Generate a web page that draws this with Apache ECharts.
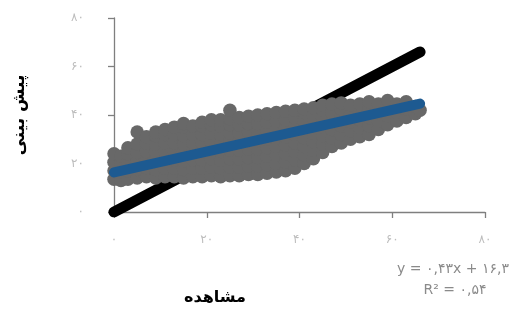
<!DOCTYPE html>
<html>
<head>
<meta charset="utf-8">
<script src="https://cdn.jsdelivr.net/npm/echarts@6/dist/echarts.min.js"></script>
<style>
html,body{margin:0;padding:0;background:#fff;}
#chart{width:518px;height:324px;}
</style>
</head>
<body>
<div id="chart"></div>
<script>
// Axis ticks (values and Persian tick labels)
var tickValues = [0, 20, 40, 60, 80];
var tickLabels = ['۰', '۲۰', '۴۰', '۶۰', '۸۰'];

// Titles and equation text
var xTitle = 'مشاهده';
var yTitle = 'پیش بینی';
var eqText = 'y = ۰,۴۳x + ۱۶,۳';
var r2Text = 'R² = ۰,۵۴';

// Identity line (observed vs observed)
var identityLine = [[0, 0], [66, 66]];

// Linear trend line y = 0.43x + 16.3
var trendLine = [[0, 16.3], [66, 44.7]];

var points = [
  [0,13.5],[0,17],[0,20.5],[0,24],
  [1.5,13],[1.5,16.5],[1.5,20],[1.5,23],
  [3,13.5],[3,17],[3,20.5],[3,24],[3,26.5],
  [5,14],[5,17.5],[5,21],[5,24.5],[5,28],[5,33],
  [7,14.5],[7,18],[7,21.5],[7,25],[7,28.5],[7,31],
  [9,14],[9,17.5],[9,21],[9,24.5],[9,28],[9,31.5],[9,33],
  [11,14.5],[11,18],[11,21.5],[11,25],[11,28.5],[11,32],[11,34],
  [13,14.5],[13,18],[13,21.5],[13,25],[13,28.5],[13,32],[13,35],
  [15,14],[15,17.5],[15,21],[15,24.5],[15,28],[15,31.5],[15,35],[15,36.5],
  [17,14.5],[17,18],[17,21.5],[17,25],[17,28.5],[17,32],[17,35.5],
  [19,14.5],[19,18],[19,21.5],[19,25],[19,28.5],[19,32],[19,35.5],[19,37],
  [21,15],[21,18.5],[21,22],[21,25.5],[21,29],[21,32.5],[21,36],[21,38],
  [23,14.5],[23,18],[23,21.5],[23,25],[23,28.5],[23,32],[23,35.5],[23,38],
  [25,15],[25,18.5],[25,22],[25,25.5],[25,29],[25,32.5],[25,36],[25,38.5],[25,42],
  [27,15],[27,18.5],[27,22],[27,25.5],[27,29],[27,32.5],[27,36],[27,39],
  [29,15.5],[29,19],[29,22.5],[29,26],[29,29.5],[29,33],[29,36.5],[29,39.5],
  [31,15.5],[31,19],[31,22.5],[31,26],[31,29.5],[31,33],[31,36.5],[31,40],
  [33,16],[33,19.5],[33,23],[33,26.5],[33,30],[33,33.5],[33,37],[33,40.5],
  [35,16.5],[35,20],[35,23.5],[35,27],[35,30.5],[35,34],[35,37.5],[35,41],
  [37,17],[37,20.5],[37,24],[37,27.5],[37,31],[37,34.5],[37,38],[37,41.5],
  [39,18],[39,21.5],[39,25],[39,28.5],[39,32],[39,35.5],[39,39],[39,42],
  [41,20],[41,23.5],[41,27],[41,30.5],[41,34],[41,37.5],[41,41],[41,42.5],
  [43,22],[43,25.5],[43,29],[43,32.5],[43,36],[43,39.5],[43,43],
  [45,24.5],[45,28],[45,31.5],[45,35],[45,38.5],[45,42],[45,44],
  [47,27],[47,30.5],[47,34],[47,37.5],[47,41],[47,44.5],
  [49,28.5],[49,32],[49,35.5],[49,39],[49,42.5],[49,45],
  [51,30],[51,33.5],[51,37],[51,40.5],[51,44],
  [53,31],[53,34.5],[53,38],[53,41.5],[53,44.5],
  [55,32],[55,35.5],[55,39],[55,42.5],[55,45.5],
  [57,34],[57,37.5],[57,41],[57,44.5],
  [59,36],[59,39.5],[59,43],[59,46],
  [61,37.5],[61,41],[61,44.5],
  [63,39],[63,42.5],[63,45.5],
  [65,40.5],[65,43.5],
  [66,42]
];

var chart = echarts.init(document.getElementById('chart'), null, {renderer: 'canvas'});

function tickFmt(v) {
  var i = tickValues.indexOf(v);
  return i >= 0 ? tickLabels[i] : '';
}

var axisCommon = {
  type: 'value',
  min: tickValues[0],
  max: tickValues[tickValues.length - 1],
  interval: 20,
  splitLine: {show: false},
  axisLine: {show: true, lineStyle: {color: '#7f7f7f', width: 1.3}},
  axisTick: {show: true, inside: false, length: 6, lineStyle: {color: '#7f7f7f', width: 1.3}},
  axisLabel: {color: '#bdbdbd', fontSize: 12, fontFamily: 'DejaVu Sans', formatter: tickFmt}
};

var option = {
  backgroundColor: '#ffffff',
  animation: false,
  grid: {left: 114, right: 33, top: 18, bottom: 112, containLabel: false},
  xAxis: echarts.util.merge({axisLabel: {margin: 22}}, axisCommon, false),
  yAxis: echarts.util.merge({axisLabel: {margin: 30}}, axisCommon, false),
  series: [
    {
      type: 'line',
      data: identityLine,
      symbol: 'none',
      z: 1,
      lineStyle: {color: '#000000', width: 11, cap: 'round'}
    },
    {
      type: 'scatter',
      data: points,
      symbol: 'circle',
      symbolSize: 13.5,
      z: 2,
      itemStyle: {color: '#686868', opacity: 1, borderWidth: 0}
    },
    {
      type: 'line',
      data: trendLine,
      symbol: 'none',
      z: 3,
      lineStyle: {color: '#1d5a91', width: 10, cap: 'round'}
    }
  ],
  graphic: [
    {
      type: 'text', x: 20, y: 115, rotation: Math.PI / 2,
      style: {text: yTitle, fill: '#000', font: 'bold 17px "DejaVu Sans"', align: 'center', verticalAlign: 'middle'}
    },
    {
      type: 'text', x: 215, y: 298,
      style: {text: xTitle, fill: '#000', font: 'bold 16px "DejaVu Sans"', align: 'center', verticalAlign: 'middle'}
    },
    {
      type: 'text', x: 453, y: 269,
      style: {text: eqText, fill: '#8a8a8a', font: '14px "DejaVu Sans"', align: 'center', verticalAlign: 'middle'}
    },
    {
      type: 'text', x: 455, y: 290,
      style: {text: r2Text, fill: '#8a8a8a', font: '14px "DejaVu Sans"', align: 'center', verticalAlign: 'middle'}
    }
  ]
};

chart.setOption(option);
</script>
</body>
</html>
